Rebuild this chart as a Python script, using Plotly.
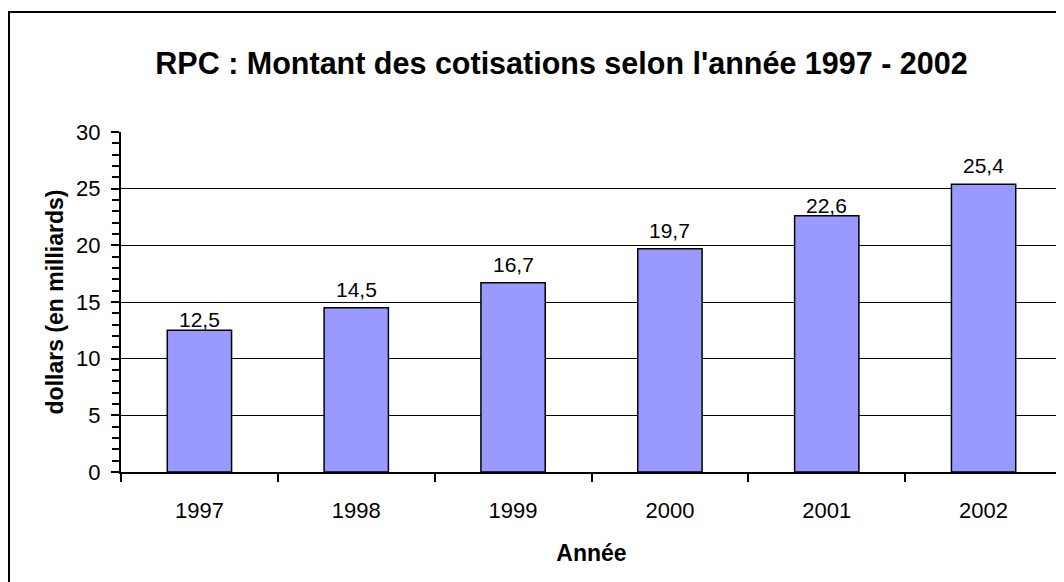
import plotly.graph_objects as go

years = ["1997", "1998", "1999", "2000", "2001", "2002"]
values = [12.5, 14.5, 16.7, 19.7, 22.6, 25.4]
labels = ["12,5", "14,5", "16,7", "19,7", "22,6", "25,4"]
label_shift = [-3, 5, 5, 5, -3, 5]

FONT = "Liberation Sans, Arial, sans-serif"

fig = go.Figure()
fig.add_trace(go.Bar(
    x=years, y=values,
    marker=dict(color="#9999FF", line=dict(color="black", width=1.5)),
    hoverinfo="skip",
))

for i, (v, t, s) in enumerate(zip(values, labels, label_shift)):
    fig.add_annotation(x=i, y=v, text=t, showarrow=False, yanchor="bottom",
                       yshift=s, font=dict(family=FONT, size=21, color="black"))

# outer chart border
fig.add_shape(type="rect", xref="paper", yref="paper",
              x0=-0.119, x1=1.0, y0=-0.4, y1=1.353,
              line=dict(color="black", width=2), fillcolor="rgba(0,0,0,0)", layer="above")

fig.update_layout(
    width=1064, height=582,
    margin=dict(l=113, r=10, t=124, b=118),
    paper_bgcolor="white", plot_bgcolor="white",
    bargap=0.59, showlegend=False,
    font=dict(family=FONT, color="black", size=22),
    title=dict(text="<b>RPC : Montant des cotisations selon l'année 1997 - 2002</b>",
               x=553.5 / 1064, xanchor="center", xref="container",
               y=1 - 55 / 582, yanchor="middle", yref="container",
               font=dict(family=FONT, size=30.5, color="black")),
    xaxis=dict(
        type="category", range=[-0.5, 5.5], tickson="boundaries", ticks="outside", ticklen=8,
        tickwidth=1.5, tickcolor="black", showline=True, linecolor="black",
        linewidth=2, showgrid=False, ticklabelstandoff=18, tickangle=0,
        tickfont=dict(size=22),
        title=dict(text="<b>Année</b>", font=dict(size=23), standoff=22),
    ),
    yaxis=dict(
        range=[0, 30], dtick=5, ticks="outside", ticklen=8, tickwidth=1.5,
        tickcolor="black", showline=True, linecolor="black", linewidth=2,
        showgrid=True, gridcolor="black", gridwidth=1.3, zeroline=False,
        ticklabelstandoff=6, tickfont=dict(size=22),
        minor=dict(dtick=1, ticks="outside", ticklen=7, tickwidth=1.5,
                   tickcolor="black", showgrid=False),
        title=dict(text="<b>dollars (en milliards)</b>", font=dict(size=23), standoff=6),
    ),
)

fig.write_html("out.html")
